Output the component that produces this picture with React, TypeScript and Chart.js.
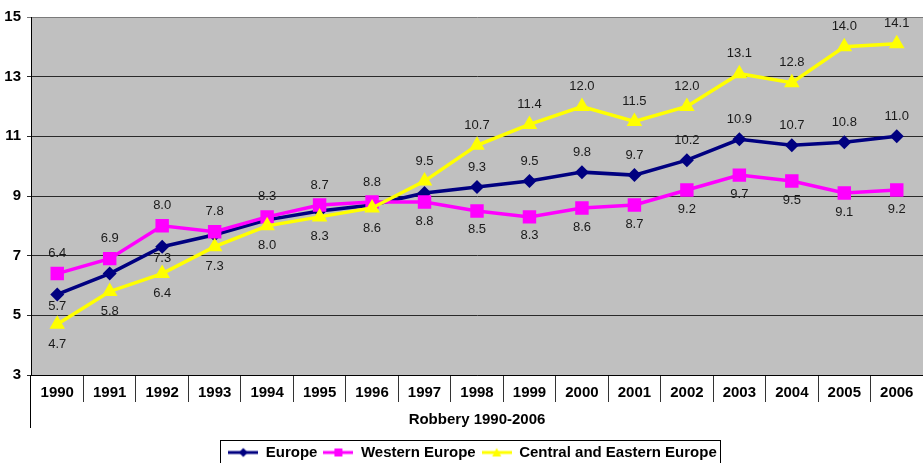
import React, { useEffect, useRef } from 'react';
import { Chart, registerables } from 'chart.js';

Chart.register(...registerables);

const years = ['1990', '1991', '1992', '1993', '1994', '1995', '1996', '1997', '1998', '1999', '2000', '2001', '2002', '2003', '2004', '2005', '2006'];
const europe = [5.7, 6.4, 7.3, 7.7, 8.2, 8.5, 8.7, 9.1, 9.3, 9.5, 9.8, 9.7, 10.2, 10.9, 10.7, 10.8, 11.0];
const western = [6.4, 6.9, 8.0, 7.8, 8.3, 8.7, 8.8, 8.8, 8.5, 8.3, 8.6, 8.7, 9.2, 9.7, 9.5, 9.1, 9.2];
const central = [4.7, 5.8, 6.4, 7.3, 8.0, 8.3, 8.6, 9.5, 10.7, 11.4, 12.0, 11.5, 12.0, 13.1, 12.8, 14.0, 14.1];
const yTicks = [3, 5, 7, 9, 11, 13, 15];
const axisTitle = 'Robbery 1990-2006';

// value-label placement per point ('' = no label)
const europeLabelPos = ['below', '', 'below', '', '', '', '', '', 'above', 'above', 'above', 'above', 'above', 'above', 'above', 'above', 'above'];
const westernLabelPos = ['above', 'above', 'above', 'above', 'above', 'above', 'above', 'below', 'below', 'below', 'below', 'below', 'below', 'below', 'below', 'below', 'below'];
const centralLabelPos = ['below', 'below', 'below', 'below', 'below', 'below', 'below', 'above', 'above', 'above', 'above', 'above', 'above', 'above', 'above', 'above', 'above'];

const FONT = '"Liberation Sans", Arial, Helvetica, sans-serif';
const NAVY = '#000080';
const MAGENTA = '#FF00FF';
const YELLOW = '#FFFF00';

function makeIcon(color: string, marker: string): HTMLCanvasElement {
  const c = document.createElement('canvas');
  c.width = 30;
  c.height = 14;
  const g = c.getContext('2d')!;
  g.strokeStyle = color;
  g.lineWidth = 3;
  g.beginPath();
  g.moveTo(0, 7);
  g.lineTo(30, 7);
  g.stroke();
  g.fillStyle = color;
  g.beginPath();
  if (marker === 'diamond') {
    g.moveTo(15, 2.5); g.lineTo(19.5, 7); g.lineTo(15, 11.5); g.lineTo(10.5, 7);
  } else if (marker === 'square') {
    g.rect(11, 3, 8, 8);
  } else {
    g.moveTo(15, 2.5); g.lineTo(19.5, 11); g.lineTo(10.5, 11);
  }
  g.closePath();
  g.fill();
  return c;
}

export default function App() {
  const ref = useRef<HTMLCanvasElement | null>(null);

  useEffect(() => {
    if (!ref.current) return;
    const placements = [europeLabelPos, westernLabelPos, centralLabelPos];
    const belowOffsets = [12, 19, 20];
    const icons = [makeIcon(NAVY, 'diamond'), makeIcon(MAGENTA, 'square'), makeIcon(YELLOW, 'triangle')];

    const bgPlugin = {
      id: 'plotBg',
      afterUpdate(chart: any) {
        const lg = chart.legend;
        if (!lg) return;
        const shift = 11;
        lg.left += shift;
        lg.right += shift;
        (lg.legendHitBoxes || []).forEach((b: any) => {
          b.left += shift;
        });
      },
      beforeDraw(chart: any) {
        const { ctx, chartArea } = chart;
        ctx.save();
        ctx.fillStyle = '#C0C0C0';
        ctx.fillRect(chartArea.left, chartArea.top, chartArea.right - chartArea.left, chartArea.bottom - chartArea.top);
        ctx.restore();
      },
      afterDraw(chart: any) {
        const { ctx, chartArea, scales } = chart;
        ctx.save();
        // extend the left axis line down through the category table
        ctx.strokeStyle = '#000';
        ctx.lineWidth = 1;
        ctx.beginPath();
        ctx.moveTo(Math.round(chartArea.left) - 0.5, chartArea.bottom);
        ctx.lineTo(Math.round(chartArea.left) - 0.5, scales.x.bottom - 11);
        ctx.stroke();
        // legend frame
        const boxes = chart.legend.legendHitBoxes || [];
        if (boxes.length) {
          let l = Infinity, r = -Infinity, t = Infinity;
          boxes.forEach((b: any) => {
            l = Math.min(l, b.left);
            r = Math.max(r, b.left + b.width);
            t = Math.min(t, b.top);
          });
          ctx.strokeStyle = '#000';
          ctx.strokeRect(Math.round(l - 8) + 0.5, Math.round(t - 5) + 0.5, Math.round(r - l + 12), 40);
        }
        ctx.restore();
      },
    };

    const labelPlugin = {
      id: 'pointLabels',
      afterDatasetsDraw(chart: any) {
        const { ctx } = chart;
        ctx.save();
        ctx.font = `13px ${FONT}`;
        ctx.fillStyle = '#1a1a1a';
        ctx.textAlign = 'center';
        ctx.textBaseline = 'middle';
        chart.data.datasets.forEach((ds: any, i: number) => {
          const meta = chart.getDatasetMeta(i);
          const pos = placements[i];
          meta.data.forEach((pt: any, j: number) => {
            const p = pos[j];
            if (!p) return;
            const v = ds.data[j] as number;
            const dy = p === 'above' ? -20 : belowOffsets[i];
            ctx.fillText(v.toFixed(1), pt.x, pt.y + dy);
          });
        });
        ctx.restore();
      },
    };

    const chart = new Chart(ref.current, {
      type: 'line',
      data: {
        labels: years,
        datasets: [
          {
            label: 'Europe',
            data: europe,
            borderColor: NAVY,
            backgroundColor: NAVY,
            borderWidth: 3.5,
            pointStyle: 'rectRot',
            pointRadius: 7,
            pointBorderWidth: 0,
            order: 3,
          },
          {
            label: 'Western Europe',
            data: western,
            borderColor: MAGENTA,
            backgroundColor: MAGENTA,
            borderWidth: 3.5,
            pointStyle: 'rect',
            pointRadius: 9.5,
            pointBorderWidth: 0,
            order: 2,
          },
          {
            label: 'Central and Eastern Europe',
            data: central,
            borderColor: YELLOW,
            backgroundColor: YELLOW,
            borderWidth: 3.5,
            pointStyle: 'triangle',
            pointRadius: 9,
            pointBorderWidth: 0,
            order: 1,
          },
        ],
      },
      options: {
        animation: false,
        responsive: false,
        layout: { autoPadding: false, padding: { top: 17, right: 0, left: 0, bottom: -7 } },
        plugins: {
          legend: {
            position: 'bottom',
            labels: {
              usePointStyle: true,
              pointStyleWidth: 30,
              boxHeight: 14,
              color: '#000',
              padding: 6,
              font: { family: FONT, size: 15, weight: 'bold' },
              generateLabels: (c: any) =>
                c.data.datasets.map((ds: any, i: number) => ({
                  text: ds.label,
                  fillStyle: ds.backgroundColor,
                  strokeStyle: ds.borderColor,
                  lineWidth: 0,
                  pointStyle: icons[i],
                  hidden: false,
                  datasetIndex: i,
                  fontColor: '#000',
                })),
            },
          },
          tooltip: { enabled: false },
        },
        scales: {
          x: {
            type: 'category',
            offset: true,
            afterFit: (s: any) => {
              s.paddingRight = 0;
              s.paddingLeft = 0;
            },
            grid: { drawOnChartArea: false, tickLength: 27, color: '#333', offset: true },
            border: { color: '#000', width: 1 },
            ticks: {
              color: '#000',
              font: { family: FONT, size: 15, weight: 'bold' },
              padding: -18,
              autoSkip: false,
              maxRotation: 0,
            },
            title: {
              display: true,
              text: axisTitle,
              color: '#000',
              font: { family: FONT, size: 15, weight: 'bold' },
              padding: { top: 27, bottom: 10 },
            },
          },
          y: {
            min: yTicks[0],
            max: yTicks[yTicks.length - 1],
            afterBuildTicks: (s: any) => {
              s.ticks = yTicks.map((v) => ({ value: v }));
            },
            afterFit: (s: any) => {
              s.width = 31;
            },
            grid: {
              color: (ctx: any) => (ctx.tick && ctx.tick.value === 15 ? '#7a7a7a' : '#2a2a2a'),
              tickLength: 4,
            },
            border: { color: '#000', width: 1 },
            ticks: {
              color: '#000',
              font: { family: FONT, size: 15, weight: 'bold' },
              padding: 6,
            },
          },
        },
      },
      plugins: [bgPlugin, labelPlugin],
    } as any);

    return () => chart.destroy();
  }, []);

  return (
    <div style={{ position: 'fixed', left: 0, top: 0, width: 923, height: 463, background: '#fff' }}>
      <canvas ref={ref} width={923} height={463} style={{ display: 'block' }} />
    </div>
  );
}
